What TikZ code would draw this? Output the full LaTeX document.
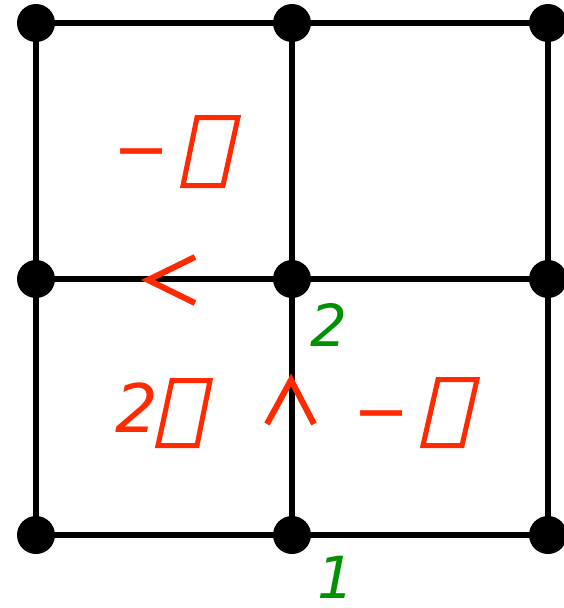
\documentclass[tikz,border=0pt]{standalone}
\usepackage{fontspec}
\setmainfont{DejaVu Sans}
\definecolor{lblred}{RGB}{255,42,0}
\definecolor{lblgreen}{RGB}{0,145,0}
\begin{document}
\begin{tikzpicture}[x=1pt,y=-1pt,
  edge/.style={line width=6pt},
  dot/.style={circle,fill=black,inner sep=0pt,minimum size=38pt},
  redlbl/.style={text=lblred,inner sep=0pt,font=\fontsize{67}{74}\selectfont\itshape},
  greenlbl/.style={text=lblgreen,inner sep=0pt,font=\fontsize{58}{64}\selectfont\itshape},
  tofu/.style={draw=lblred,line width=5pt,miter limit=10},
  chevron/.style={draw=lblred,line width=6pt}]
\useasboundingbox (0,0) rectangle (563,608);
% grid nodes
\foreach \c/\x in {a/36,b/292,c/548}{
  \foreach \r/\y in {1/23,2/279,3/535}{
    \coordinate (\c\r) at (\x,\y);
  }}
\draw[edge] (a1) -- (c1) (a2) -- (c2) (a3) -- (c3)
            (a1) -- (a3) (b1) -- (b3) (c1) -- (c3);
\foreach \n in {a1,a2,a3,b1,b2,b3,c1,c2,c3}{\node[dot] at (\n) {};}
% red arrow marks
\coordinate (lt) at (148,280);
\coordinate (lt1) at (195,257);
\coordinate (lt2) at (195,303);
\draw[chevron] (lt1) -- (lt) -- (lt2);
\coordinate (up) at (291,380);
\coordinate (up1) at (267,424);
\coordinate (up2) at (314,424);
\draw[chevron] (up1) -- (up) -- (up2);
% red labels
\node[redlbl] (m1) at (142,161) {−};
\draw[tofu] (197,117.5) -- (238,117.5) -- (223,185.5) -- (183,185.5) -- cycle;
\node[redlbl] (t2) at (137,408) {2};
\draw[tofu] (172,380.5) -- (210,380.5) -- (197,445.5) -- (158,445.5) -- cycle;
\node[redlbl] (m2) at (382,423) {−};
\draw[tofu] (438,379.5) -- (477,379.5) -- (462,445.5) -- (423,445.5) -- cycle;
% green labels
\node[greenlbl] (g2) at (329,325) {2};
\node[greenlbl] (g1) at (336,577) {1};
\end{tikzpicture}
\end{document}
